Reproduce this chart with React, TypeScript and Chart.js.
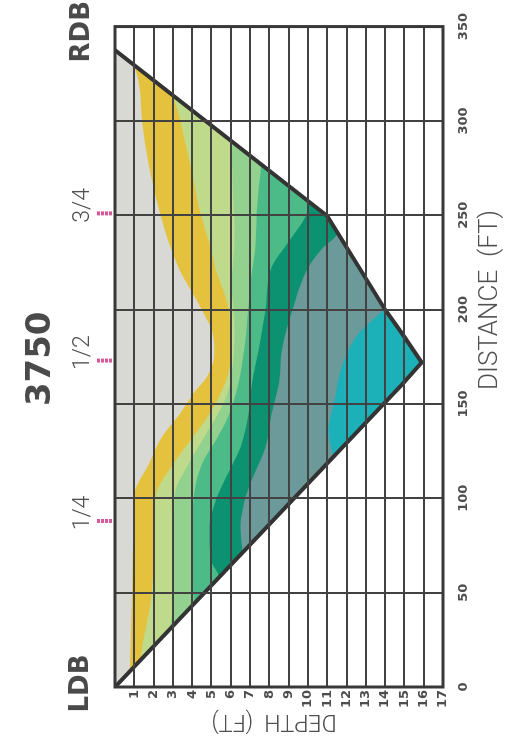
import React, { useEffect, useRef } from 'react';
import { Chart, registerables } from 'chart.js';

Chart.register(...registerables);

// ---- axes ----
const distanceMin = 0;
const distanceMax = 350;
const distanceStep = 50;
const depthMin = 0;
const depthMax = 17;
const depthStep = 1;

// ---- channel bed (distance ft, depth ft) ----
const bedProfile: [number, number][] = [
  [0, 0], [160, 14.85], [172, 15.9], [187, 14.9], [200, 14], [249.6, 11], [337.5, 0],
];

// ---- contour boundaries (distance ft, depth ft), left bank -> right bank ----
const grayYellow: [number, number][] = [
  [8, 0.74], [20, 0.8], [50, 0.88], [80, 0.93], [102, 1.0], [118, 1.75], [132, 2.4], [144, 3.3],
  [156, 4.1], [165, 4.8], [176, 5.15], [188, 5.05], [200, 4.5], [222, 3.3], [252, 2.3], [300, 1.4], [330, 0.94],
];
const yellowLime: [number, number][] = [
  [13, 1.21], [24, 1.45], [50, 1.9], [80, 2.0], [101, 2.1], [118, 3.0], [132, 4.0], [144, 4.85],
  [156, 5.5], [165, 5.85], [179, 6.0], [200, 5.9], [222, 5.2], [231, 5.0], [252, 4.4], [272, 4.0],
  [295, 3.5], [307, 3.2], [315, 2.82],
];
const limePale: [number, number][] = [
  [30, 2.78], [50, 3.0], [80, 3.05], [102, 3.1], [118, 3.8], [132, 4.6], [144, 5.3], [156, 5.85],
  [170, 6.1], [190, 6.2], [213, 6.05], [240, 6.2], [265, 6.1], [290, 5.94],
];
const paleGreen: [number, number][] = [
  [44, 4.08], [60, 4.0], [85, 4.0], [102, 4.1], [118, 4.5], [132, 5.3], [144, 5.9], [161, 6.4],
  [179, 6.7], [200, 6.9], [213, 7.0], [231, 7.25], [252, 7.35], [265, 7.45], [277, 7.57],
];
const greenDark: [number, number][] = [
  [58, 5.38], [68, 4.95], [85, 4.9], [98, 5.2], [110, 5.7], [127, 6.5], [144, 6.9], [161, 7.1],
  [179, 7.45], [200, 7.8], [222, 8.1], [236, 9.0], [250, 9.9], [257, 10.07],
];
const darkSlate: [number, number][] = [
  [71, 6.59], [85, 6.5], [98, 6.7], [110, 7.1], [127, 7.8], [144, 8.1], [161, 8.5], [179, 8.65],
  [200, 9.2], [222, 10.0], [232, 10.7], [241, 11.52],
];
const slateCyan: [number, number][] = [
  [121.6, 11.29], [135, 11.07], [153, 11.4], [170, 11.76], [187, 12.6], [196, 13.5], [201, 13.94],
];

const boundaries = [grayYellow, yellowLime, limePale, paleGreen, greenDark, darkSlate, slateCyan];
const bandColors = ['#d8d8d5', '#e5c23e', '#bfda8a', '#92d18e', '#4dbb87', '#0c9270', '#6c9a9a', '#1cb0b8'];

// ---- annotations ----
const quarterLabels = ['1/4', '1/2', '3/4'];
const quarterDistances = [88, 173, 251];
const titleText = '3750';
const leftBankText = 'LDB';
const rightBankText = 'RDB';
const distanceTitle = 'DISTANCE  (FT)';
const depthTitle = 'DEPTH  (FT)';

const tipDistance = bedProfile.reduce((a, p) => (p[1] > a[1] ? p : a), bedProfile[0])[0];

function closeToSurface(curve: [number, number][]) {
  const first = curve[0][0];
  const last = curve[curve.length - 1][0];
  const left = bedProfile.filter((p) => p[0] < first && p[0] < tipDistance);
  const right = bedProfile.filter((p) => p[0] > last && p[0] > tipDistance);
  return [...left, ...curve, ...right].map(([x, y]) => ({ x, y }));
}

const decorPlugin = {
  id: 'decor',
  afterDraw(chart: any) {
    const { ctx, chartArea: a, scales } = chart;
    const xs = scales.x;
    ctx.save();
    // frame
    ctx.strokeStyle = '#383838';
    ctx.lineWidth = 3;
    ctx.strokeRect(a.left, a.top, a.right - a.left, a.bottom - a.top);

    // quarter marks
    quarterDistances.forEach((d, i) => {
      const px = xs.getPixelForValue(d);
      ctx.strokeStyle = '#d8589c';
      ctx.lineWidth = 4;
      ctx.setLineDash([3, 1]);
      ctx.beginPath();
      ctx.moveTo(px, a.top - 18);
      ctx.lineTo(px, a.top - 2);
      ctx.stroke();
      ctx.setLineDash([]);
      ctx.fillStyle = '#505050';
      ctx.font = '300 23px Roboto';
      ctx.textAlign = 'center';
      ctx.textBaseline = 'alphabetic';
      ctx.fillText(quarterLabels[i], px + 8, a.top - 26);
    });

    // title
    ctx.fillStyle = '#4a4a4a';
    ctx.font = 'bold 34px "DejaVu Sans"';
    ctx.textAlign = 'center';
    ctx.fillText(titleText, (a.left + a.right) / 2 - 2, 50);

    // banks
    ctx.font = 'bold 26px "DejaVu Sans"';
    ctx.fillText(leftBankText, a.left + 3.5, 88);
    ctx.textAlign = 'right';
    ctx.fillText(rightBankText, 743, 89);

    // axis titles
    ctx.textAlign = 'center';
    ctx.fillStyle = '#505050';
    ctx.font = '300 26px Roboto';
    ctx.fillText(distanceTitle, a.left + 387, 497);

    ctx.save();
    ctx.translate(29, (a.top + a.bottom) / 2 - 5);
    ctx.rotate(-Math.PI / 2);
    ctx.font = '300 23px Roboto';
    ctx.textAlign = 'center';
    ctx.fillText(depthTitle, 0, 0);
    ctx.restore();

    ctx.restore();
  },
};

export default function App() {
  const ref = useRef<HTMLCanvasElement>(null);

  useEffect(() => {
    const canvas = ref.current;
    if (!canvas) return;

    const bandSets = boundaries.map((b, i) => ({
      label: 'band' + i,
      data: closeToSurface(b),
      showLine: true,
      pointRadius: 0,
      borderWidth: 0,
      borderColor: 'rgba(0,0,0,0)',
      backgroundColor: bandColors[i],
      fill: { value: 0 },
      cubicInterpolationMode: 'monotone' as const,
      order: i + 1,
    }));

    const deepest = {
      label: 'deepest',
      data: bedProfile.map(([x, y]) => ({ x, y })),
      showLine: true,
      pointRadius: 0,
      borderWidth: 0,
      borderColor: 'rgba(0,0,0,0)',
      backgroundColor: bandColors[bandColors.length - 1],
      fill: { value: 0 },
      tension: 0,
      order: boundaries.length + 1,
    };

    const bed = {
      label: 'bed',
      data: bedProfile.map(([x, y]) => ({ x, y })),
      showLine: true,
      pointRadius: 0,
      borderWidth: 4,
      borderColor: '#333333',
      backgroundColor: '#ffffff',
      fill: { value: depthMax },
      tension: 0,
      order: 0,
    };

    const tickFont = { family: '"DejaVu Sans"', weight: 'bold' as const, size: 13 };

    const chart = new Chart(canvas, {
      type: 'scatter',
      data: { datasets: [bed, ...bandSets, deepest] as any },
      options: {
        animation: false,
        responsive: false,
        devicePixelRatio: 1,
        events: [],
        layout: { padding: { top: 115, right: 14, left: 0, bottom: 0 } },
        plugins: {
          legend: { display: false },
          tooltip: { enabled: false },
          title: { display: false },
        },
        scales: {
          x: {
            type: 'linear',
            position: 'bottom',
            min: distanceMin,
            max: distanceMax,
            afterFit: (s: any) => {
              s.height = 77;
            },
            ticks: {
              stepSize: distanceStep,
              padding: 13,
              maxRotation: 0,
              autoSkip: false,
              color: '#4d4d4d',
              font: tickFont,
            },
            grid: { color: '#424242', lineWidth: 2, drawTicks: false, z: 1 },
            border: { display: false },
          },
          y: {
            type: 'linear',
            min: depthMin,
            max: depthMax,
            reverse: true,
            afterFit: (s: any) => {
              s.width = 57;
            },
            ticks: {
              stepSize: depthStep,
              maxTicksLimit: 100,
              autoSkip: false,
              padding: 3,
              color: '#4d4d4d',
              font: tickFont,
              callback: (v: any) => (Number(v) === 0 ? '' : String(v)),
            },
            grid: { color: '#424242', lineWidth: 2, drawTicks: false, z: 1 },
            border: { display: false },
          },
        },
      },
      plugins: [decorPlugin],
    });

    return () => chart.destroy();
  }, []);

  return (
    <div
      style={{
        position: 'fixed',
        left: 0,
        top: 0,
        width: 520,
        height: 744,
        overflow: 'hidden',
        background: '#ffffff',
      }}
    >
      <div
        style={{
          position: 'absolute',
          left: 0,
          top: 0,
          width: 744,
          height: 520,
          transformOrigin: '0 0',
          transform: 'translateY(744px) rotate(-90deg)',
        }}
      >
        <canvas ref={ref} width={744} height={520} style={{ display: 'block', width: 744, height: 520 }} />
      </div>
    </div>
  );
}
